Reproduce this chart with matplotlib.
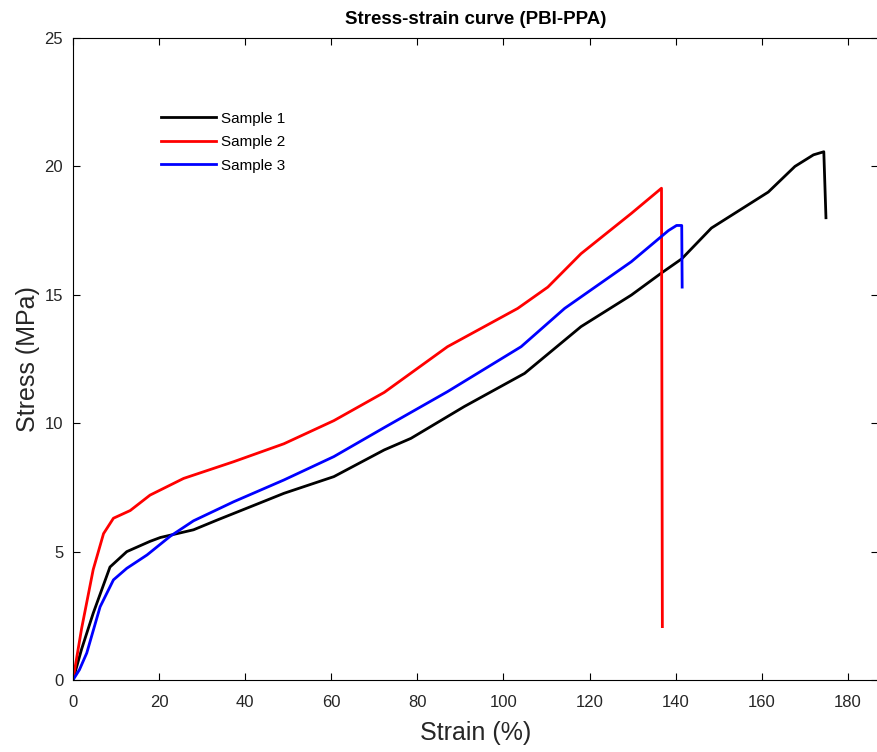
import matplotlib
matplotlib.use('Agg')
import matplotlib.pyplot as plt

plt.rcParams['font.family'] = ['Liberation Sans', 'DejaVu Sans']

# strain (%) / stress (MPa)
strain_1 = [0, 2.0, 4.7, 8.6, 12.5, 17.9, 20.3, 28, 33.5, 43.5, 49, 60.6, 72.3, 78.5,
            90.9, 104.9, 118, 129.7, 136.7, 141.4, 148.3, 161.5, 167.7, 172, 174.4, 174.9]
stress_1 = [0, 1.2, 2.6, 4.4, 5.0, 5.4, 5.55, 5.85, 6.23, 6.9, 7.27, 7.92, 8.96, 9.41,
            10.65, 11.94, 13.76, 14.99, 15.85, 16.4, 17.6, 19.0, 20.0, 20.45, 20.57, 18.0]

strain_2 = [0, 2.0, 4.7, 7.1, 9.4, 13.3, 17.9, 25.7, 37.3, 49, 60.6, 72.3, 87, 103.3,
            110.3, 118, 129.7, 136.7, 136.9]
stress_2 = [0, 2.0, 4.3, 5.7, 6.3, 6.6, 7.2, 7.85, 8.5, 9.2, 10.1, 11.2, 12.98, 14.47,
            15.3, 16.6, 18.17, 19.15, 2.08]

strain_3 = [0, 1.5, 3.2, 6.3, 9.4, 12.5, 17.2, 22.6, 28, 37.3, 49, 60.6, 72.3, 87,
            104.1, 114.2, 129.7, 138.3, 140.2, 141.4, 141.5]
stress_3 = [0, 0.4, 1.05, 2.85, 3.9, 4.35, 4.87, 5.6, 6.2, 6.94, 7.79, 8.7, 9.83, 11.23,
            12.98, 14.47, 16.29, 17.5, 17.7, 17.7, 15.3]

labels = ['Sample 1', 'Sample 2', 'Sample 3']
colors = ['black', 'red', 'blue']

fig = plt.figure(figsize=(8.77, 7.52), dpi=100)
ax = fig.add_axes([0.0832, 0.0957, 0.918, 0.8538])

for x, y, lab, c in zip([strain_1, strain_2, strain_3],
                        [stress_1, stress_2, stress_3], labels, colors):
    ax.plot(x, y, color=c, linewidth=2, label=lab)

ax.set_xlim(0, 187)
ax.set_ylim(0, 25)
ax.set_xticks(range(0, 181, 20))
ax.set_yticks(range(0, 26, 5))
ax.tick_params(direction='in', top=True, right=True, length=5, width=0.8,
               labelsize=12, labelcolor='#262626')
ax.tick_params(axis='x', pad=11)
ax.tick_params(axis='y', pad=7)
for s in ax.spines.values():
    s.set_linewidth(0.8)

ax.set_xlabel('Strain (%)', fontsize=18, color='#262626', labelpad=8)
ax.set_ylabel('Stress (MPa)', fontsize=18, color='#262626', labelpad=3)
ax.set_title('Stress-strain curve (PBI-PPA)', fontsize=13.5, fontweight='bold', pad=10)

ax.legend(loc='upper left', bbox_to_anchor=(0.1, 0.897), frameon=False, fontsize=11,
          borderpad=0, handlelength=3.6, handletextpad=0.35, labelspacing=0.62)

plt.savefig('out.png', dpi=100)
